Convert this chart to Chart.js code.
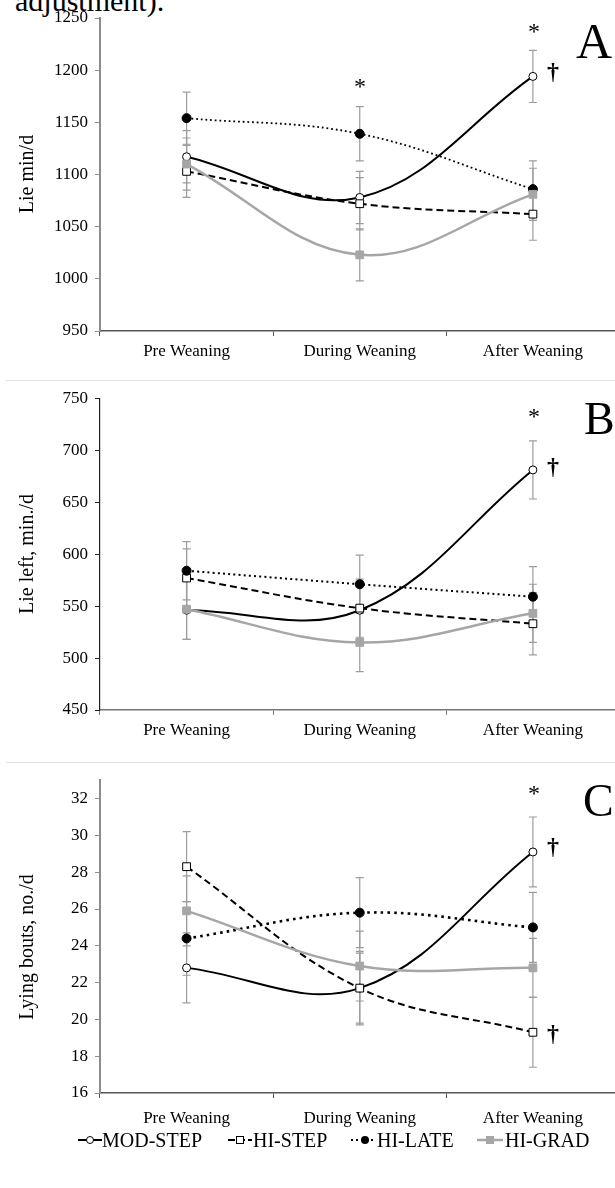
<!DOCTYPE html>
<html><head><meta charset="utf-8">
<script src="https://cdn.jsdelivr.net/npm/chart.js@4"></script>
<style>
html,body{margin:0;padding:0;background:#fff;overflow:hidden;width:615px;height:1188px;}
body{position:relative;font-family:'Liberation Serif','Times New Roman',serif;}
.pn{position:absolute;left:0;}
.t{position:absolute;white-space:nowrap;line-height:1;color:#000;font-family:'Liberation Serif','Times New Roman',serif;}
.sep{position:absolute;left:6px;width:609px;height:1px;background:#e2e2e2;}
.lg{position:absolute;font-size:20px;line-height:1;white-space:nowrap;}
svg{position:absolute;}
</style></head><body>
<div class="t" style="left:15px;top:-14px;font-size:30px;">adjustment).</div>
<canvas id="cA" class="pn" width="626" height="380" style="top:0px"></canvas>
<div class="sep" style="top:380px"></div>
<canvas id="cB" class="pn" width="626" height="381" style="top:381px"></canvas>
<div class="sep" style="top:762px"></div>
<canvas id="cC" class="pn" width="626" height="380" style="top:763px"></canvas>
<div id="notes"></div>
<div id="legend"></div>
<script>
// ---------- data ----------
const categories = ['Pre Weaning', 'During Weaning', 'After Weaning'];
const seriesNames = ['MOD-STEP', 'HI-STEP', 'HI-LATE', 'HI-GRAD'];

// Panel A: Lie min/d
const lieMod      = [1117, 1078, 1194];
const lieHiStep   = [1103, 1072, 1062];
const lieHiLate   = [1154, 1139, 1086];
const lieHiGrad   = [1110, 1023, 1081];
const lieModSE    = [25, 25, 25];
const lieHiStepSE = [25, 25, 25];
const lieHiLateSE = [25, 26, 27];
const lieHiGradSE = [25, 25, 25];
const lieTicks = [950, 1250, 50];   // min, max, step

// Panel B: Lie left, min./d
const leftMod      = [546, 546, 681];
const leftHiStep   = [577, 548, 533];
const leftHiLate   = [584, 571, 559];
const leftHiGrad   = [547, 515, 543];
const leftModSE    = [28, 28, 28];
const leftHiStepSE = [28, 28, 30];
const leftHiLateSE = [28, 28, 29];
const leftHiGradSE = [29, 28, 28];
const leftTicks = [450, 750, 50];

// Panel C: Lying bouts, no./d
const boutsMod      = [22.8, 21.7, 29.1];
const boutsHiStep   = [28.3, 21.7, 19.3];
const boutsHiLate   = [24.4, 25.8, 25.0];
const boutsHiGrad   = [25.9, 22.9, 22.8];
const boutsModSE    = [1.9, 2.0, 1.9];
const boutsHiStepSE = [1.9, 1.9, 1.9];
const boutsHiLateSE = [2.0, 1.9, 1.9];
const boutsHiGradSE = [1.9, 1.9, 1.6];
const boutsTicks = [16, 33, 2];

// ---------- styling ----------
const FONT = "'Liberation Serif', 'Times New Roman', serif";
Chart.defaults.font.family = FONT;
Chart.defaults.color = '#000';
const GRAY = '#a6a6a6';

const errorBars = {
  id: 'errorBars',
  beforeDatasetsDraw(chart) {
    const {ctx, scales: {x, y}} = chart;
    ctx.save();
    ctx.strokeStyle = '#9c9c9c';
    ctx.lineWidth = 1.2;
    chart.data.datasets.forEach(ds => {
      if (!ds.se) return;
      ds.data.forEach((v, j) => {
        const px = x.getPixelForValue(j);
        const top = y.getPixelForValue(v + ds.se[j]);
        const bot = y.getPixelForValue(v - ds.se[j]);
        ctx.beginPath();
        ctx.moveTo(px, top); ctx.lineTo(px, bot);
        ctx.moveTo(px - 4, top); ctx.lineTo(px + 4, top);
        ctx.moveTo(px - 4, bot); ctx.lineTo(px + 4, bot);
        ctx.stroke();
      });
    });
    ctx.restore();
  }
};

function makeDatasets(vals, ses, dotW) {
  return [
    {label: seriesNames[0], data: vals[0], se: ses[0], order: 4,
     borderColor: '#000', borderWidth: 2, pointStyle: 'circle', pointRadius: 4,
     pointBackgroundColor: '#fff', pointBorderColor: '#000', pointBorderWidth: 1},
    {label: seriesNames[1], data: vals[1], se: ses[1], order: 3,
     borderColor: '#000', borderWidth: 2, borderDash: [7, 4], pointStyle: 'rect', pointRadius: 5.5,
     pointBackgroundColor: '#fff', pointBorderColor: '#000', pointBorderWidth: 1},
    {label: seriesNames[2], data: vals[2], se: ses[2], order: 2,
     borderColor: '#000', borderWidth: dotW, borderDash: [dotW, dotW * 1.6], pointStyle: 'circle', pointRadius: 4.5,
     pointBackgroundColor: '#000', pointBorderColor: '#000', pointBorderWidth: 1},
    {label: seriesNames[3], data: vals[3], se: ses[3], order: 1,
     borderColor: GRAY, borderWidth: 2.5, pointStyle: 'rect', pointRadius: 5.5,
     pointBackgroundColor: GRAY, pointBorderColor: GRAY, pointBorderWidth: 1}
  ];
}

function makeChart(id, vals, ses, ticks, cfg) {
  const [mn, mx, step] = ticks;
  return new Chart(document.getElementById(id), {
    type: 'line',
    data: {labels: categories, datasets: makeDatasets(vals, ses, cfg.dotW)},
    options: {
      responsive: false, animation: false, events: [],
      layout: {padding: {top: cfg.top, left: 0, right: 0, bottom: 0}},
      elements: {line: {tension: 0.38, fill: false}},
      plugins: {legend: {display: false}, tooltip: {enabled: false}},
      scales: {
        x: {
          offset: true,
          grid: {offset: true, drawOnChartArea: false, drawTicks: true, tickLength: 5, color: cfg.xColor},
          border: {display: true, color: cfg.xColor, width: 1.5},
          ticks: {font: {size: 17}, padding: cfg.xPad, maxRotation: 0, autoSkip: false},
          afterFit: s => { s.height = cfg.xH; }
        },
        y: {
          min: mn, max: mx,
          grid: {drawOnChartArea: false, drawTicks: true, tickLength: 5, color: cfg.yColor},
          border: {display: true, color: cfg.yColor, width: cfg.yW},
          ticks: {stepSize: step, font: {size: 17}, padding: 7, callback: v => String(v)},
          afterBuildTicks: s => {
            const out = [];
            for (let v = mn; v <= mx; v += step) out.push({value: v});
            s.ticks = out;
          },
          afterFit: s => { s.width = 100; }
        }
      }
    },
    plugins: [errorBars]
  });
}

makeChart('cA', [lieMod, lieHiStep, lieHiLate, lieHiGrad],
  [lieModSE, lieHiStepSE, lieHiLateSE, lieHiGradSE], lieTicks,
  {top: 18, xH: 49, xPad: 5, xColor: '#555', yColor: '#8c8c8c', yW: 2, dotW: 1.8});
makeChart('cB', [leftMod, leftHiStep, leftHiLate, leftHiGrad],
  [leftModSE, leftHiStepSE, leftHiLateSE, leftHiGradSE], leftTicks,
  {top: 16, xH: 52, xPad: 5, xColor: '#777', yColor: '#222', yW: 1.2, dotW: 2});
makeChart('cC', [boutsMod, boutsHiStep, boutsHiLate, boutsHiGrad],
  [boutsModSE, boutsHiStepSE, boutsHiLateSE, boutsHiGradSE], boutsTicks,
  {top: 16, xH: 50, xPad: 10, xColor: '#555', yColor: '#8c8c8c', yW: 2, dotW: 2.6});

// ---------- axis titles & annotations ----------
const notes = document.getElementById('notes');
function vtitle(text, cx, cy, size) {
  const d = document.createElement('div');
  d.className = 't';
  d.textContent = text;
  d.style.fontSize = size + 'px';
  d.style.left = cx + 'px';
  d.style.top = cy + 'px';
  d.style.transform = 'translate(-50%,-50%) rotate(-90deg)';
  notes.appendChild(d);
}
vtitle('Lie min/d', 26, 174, 20);
vtitle('Lie left, min./d', 26, 554, 20);
vtitle('Lying bouts, no./d', 26, 947, 20);

function note(text, x, baseline, size, opts = {}) {
  const d = document.createElement('div');
  d.className = 't';
  d.textContent = text;
  d.style.fontSize = size + 'px';
  d.style.top = (baseline - 0.8375 * size) + 'px';
  d.style.left = x + 'px';
  if (opts.center) d.style.transform = 'translateX(-50%)';
  if (opts.bold) d.style.fontWeight = 'bold';
  notes.appendChild(d);
}
note('*', 360, 94, 24, {center: true});
note('*', 534, 39, 24, {center: true});
note('†', 553, 79, 24, {center: true, bold: true});
note('A', 576, 58, 50);
note('*', 534, 424, 24, {center: true});
note('†', 553, 474, 24, {center: true, bold: true});
note('B', 584, 435, 46);
note('*', 534, 801, 24, {center: true});
note('†', 553, 854, 24, {center: true, bold: true});
note('†', 553, 1041, 24, {center: true, bold: true});
note('C', 583, 817, 46);

// ---------- legend ----------
const legend = document.getElementById('legend');
const icons = [
  '<line x1="0" y1="7" x2="24" y2="7" stroke="#000" stroke-width="2"/><circle cx="12" cy="7" r="3.5" fill="#fff" stroke="#000" stroke-width="1"/>',
  '<line x1="0" y1="7" x2="24" y2="7" stroke="#000" stroke-width="2" stroke-dasharray="7,3"/><rect x="8.5" y="3.5" width="7" height="7" fill="#fff" stroke="#000" stroke-width="1"/>',
  '<line x1="0" y1="7" x2="24" y2="7" stroke="#000" stroke-width="2" stroke-dasharray="2,3"/><circle cx="14" cy="7" r="4" fill="#000"/>',
  '<line x1="0" y1="7" x2="26" y2="7" stroke="' + GRAY + '" stroke-width="2.5"/><rect x="9" y="3" width="8" height="8" fill="' + GRAY + '"/>'
];
const iconX = [78, 228, 351, 477];
const textX = [102, 253, 377, 505];
seriesNames.forEach((name, i) => {
  const s = document.createElementNS('http://www.w3.org/2000/svg', 'svg');
  s.setAttribute('width', '27'); s.setAttribute('height', '14');
  s.style.left = iconX[i] + 'px'; s.style.top = '1133px';
  s.innerHTML = icons[i];
  legend.appendChild(s);
  const d = document.createElement('div');
  d.className = 'lg t';
  d.textContent = name;
  d.style.left = textX[i] + 'px';
  d.style.top = (1147 - 0.8375 * 20) + 'px';
  legend.appendChild(d);
});
</script>
</body></html>
